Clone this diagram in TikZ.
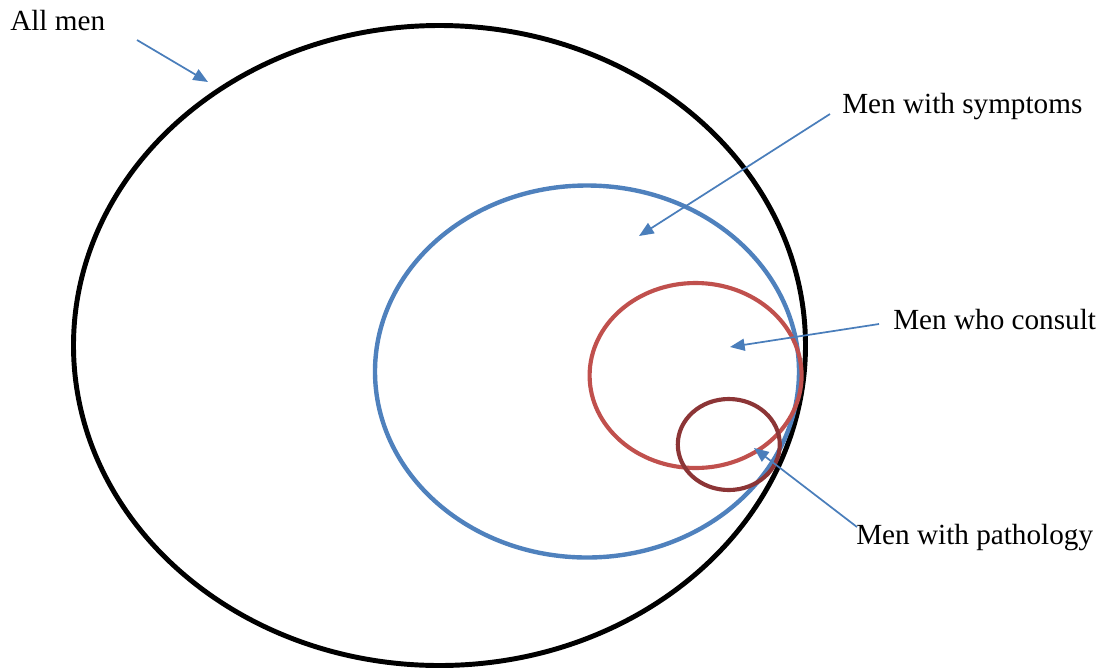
\documentclass[tikz,border=0pt]{standalone}
\usepackage{fontspec}
\setmainfont{Liberation Serif}
\usetikzlibrary{arrows.meta}
\definecolor{allc}{HTML}{000000}
\definecolor{sympc}{HTML}{4F81BD}
\definecolor{consc}{HTML}{C0504D}
\definecolor{pathc}{HTML}{8C3536}
\definecolor{arrc}{HTML}{4A7EBB}
\tikzset{
  lbl/.style={anchor=base west, inner sep=0pt, font=\fontsize{21.9}{26}\selectfont},
  pointer/.style={draw=arrc, line width=1.3pt, -{Triangle[length=11pt,width=9pt]}},
  ring/.style={line width=#1},
}
\begin{document}
\begin{tikzpicture}[x=0.75pt,y=-0.75pt]
\useasboundingbox (0,0) rectangle (1108,669);
% sets
\draw[allc, ring=3.7pt] (439.5,345.5) ellipse [x radius=366, y radius=320];
\draw[sympc, ring=3.3pt] (587,371.5) ellipse [x radius=212, y radius=186];
\draw[consc, ring=3.1pt] (695.6,375.5) ellipse [x radius=106, y radius=92.5];
\draw[pathc, ring=3.1pt] (728.8,444.5) ellipse [x radius=51, y radius=45.5];
% labels
\node[lbl] (all) at (10,30) {All men};
\node[lbl] (symp) at (842,113) {Men with symptoms};
\node[lbl] (cons) at (893,329) {Men who consult};
\node[lbl] (path) at (856,544) {Men with pathology};
% arrow ends
\coordinate (allS) at (137,40);
\coordinate (allT) at (208,82);
\coordinate (sympS) at (830,114);
\coordinate (sympT) at (639,236);
\coordinate (consS) at (879,324);
\coordinate (consT) at (730,347);
\coordinate (pathS) at (857,527);
\coordinate (pathT) at (754,448);
\draw[pointer] (allS) -- (allT);
\draw[pointer] (sympS) -- (sympT);
\draw[pointer] (consS) -- (consT);
\draw[pointer] (pathS) -- (pathT);
\end{tikzpicture}
\end{document}
